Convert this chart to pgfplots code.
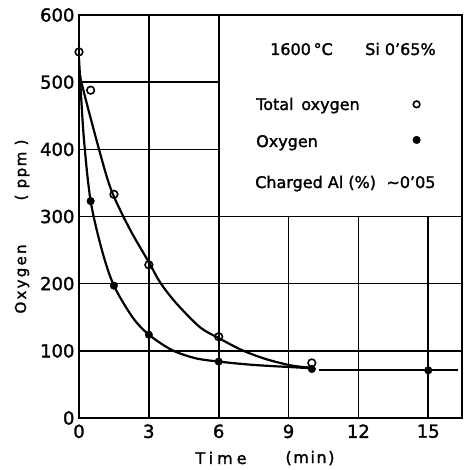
\documentclass[border=0pt]{standalone}
\usepackage{pgfplots}
\pgfplotsset{compat=1.18}
\usepackage{fontspec}
\setmainfont{DejaVu Sans}[FakeBold=1.5,AutoFakeBold=1.5]
\newfontfamily\boldish{DejaVu Sans}[FakeBold=1.6]
\begin{document}
\begin{tikzpicture}[x=1pt,y=1pt]
\useasboundingbox (0,0) rectangle (465,470);
\begin{axis}[
  at={(79pt,52pt)}, anchor=south west, scale only axis,
  width=383pt, height=403pt,
  xmin=0, xmax=16.45, ymin=0, ymax=600,
  xtick={0,3,6,9,12,15}, ytick={0,100,200,300,400,500,600},
  grid=major, major grid style={black, line width=1.6pt},
  axis line style={line width=2.2pt},
  major tick length=0pt,
  /pgf/number format/assume math mode=true,
  tick label style={font=\boldish\fontsize{18}{18}\selectfont},
  xticklabel style={yshift=-3pt},
  yticklabel style={xshift=-1pt},
]
% legend box
\draw[fill=white, line width=1.6pt] (axis cs:6,300) rectangle (axis cs:16.45,600);
% fitted curves
\addplot[black, line width=2.2pt, smooth, tension=0.5] coordinates {
 (0,535) (0.07,505) (0.86,400) (1.4,338) (2.2,280) (3,232) (3.5,201) (4.2,170) (5.2,135) (6,119) (7,101) (8,88) (9,79) (9.6,76) (10,75)};
\addplot[black, line width=2.2pt, smooth, tension=0.5] coordinates {
 (0,535) (0.2,420) (0.5,323) (1.0,248) (1.5,197) (2.3,150) (3,124) (4,101) (5,89) (6,84) (7.5,79) (9.5,75) (10,74)};
\addplot[black, line width=2.2pt] coordinates {(10.3,72) (16.27,72)};
% data points
\addplot[only marks, mark=*, mark size=3.8pt, mark options={fill=black, draw=black}] coordinates {
 (0.5,323) (1.5,197) (3,124) (6,84) (10,73) (15,71)};
\addplot[only marks, mark=o, mark size=3.8pt, mark options={fill=white, draw=black, line width=1.6pt}] coordinates {
 (0,545) (0.5,488) (1.5,333) (3,228) (6,121) (10,82)};
% legend symbols
\addplot[only marks, mark=o, mark size=3.3pt, mark options={fill=white, draw=black, line width=1.6pt}] coordinates {(14.5,467)};
\addplot[only marks, mark=*, mark size=3.8pt, mark options={fill=black}] coordinates {(14.5,414)};
\end{axis}
% legend texts
\node[anchor=base west, inner sep=0pt, font=\boldish\fontsize{16}{16}\selectfont] at (270,415) {1600\,°C};
\node[anchor=base west, inner sep=0pt, font=\boldish\fontsize{16}{16}\selectfont] at (365,415) {Si 0’65\%};
\node[anchor=base west, inner sep=0pt, font=\boldish\fontsize{16}{16}\selectfont] at (256,360) {Total\, oxygen};
\node[anchor=base west, inner sep=0pt, font=\boldish\fontsize{16}{16}\selectfont] at (256,323) {Oxygen};
\node[anchor=base west, inner sep=0pt, font=\boldish\fontsize{16}{16}\selectfont] at (255,282) {Charged Al (\%)\,\, \textasciitilde 0’05};
% axis labels
\node[font=\boldish\fontsize{16}{16}\selectfont\addfontfeatures{LetterSpace=25}] at (221,12) {Time};
\node[font=\boldish\fontsize{16}{16}\selectfont\addfontfeatures{LetterSpace=10}] at (310,12) {(min)};
\node[rotate=90, font=\boldish\fontsize{15}{15}\selectfont\addfontfeatures{LetterSpace=15}] at (22,191) {Oxygen};
\node[rotate=90, font=\boldish\fontsize{15}{15}\selectfont\addfontfeatures{LetterSpace=10}] at (22,300) {( ppm )};
\end{tikzpicture}
\end{document}
